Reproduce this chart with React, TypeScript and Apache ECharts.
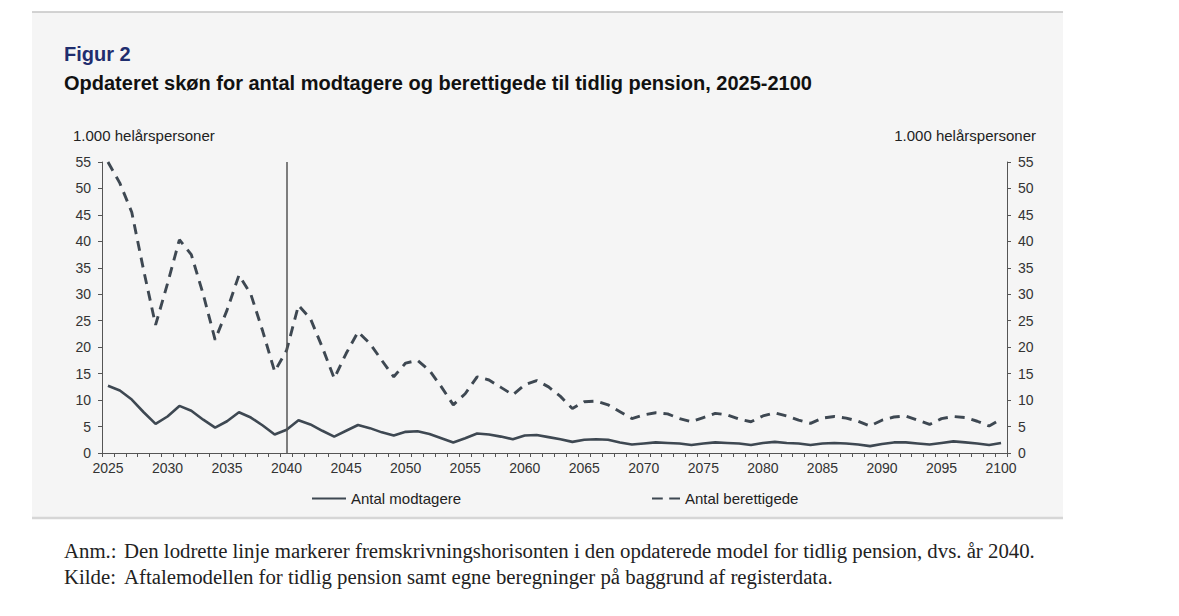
import React, { useEffect, useRef } from "react";
import * as echarts from "echarts";

const years = [
  "2025","2026","2027","2028","2029","2030","2031","2032","2033","2034",
  "2035","2036","2037","2038","2039","2040","2041","2042","2043","2044",
  "2045","2046","2047","2048","2049","2050","2051","2052","2053","2054",
  "2055","2056","2057","2058","2059","2060","2061","2062","2063","2064",
  "2065","2066","2067","2068","2069","2070","2071","2072","2073","2074",
  "2075","2076","2077","2078","2079","2080","2081","2082","2083","2084",
  "2085","2086","2087","2088","2089","2090","2091","2092","2093","2094",
  "2095","2096","2097","2098","2099","2100",
];

const modtagere = [
  12.7, 11.8, 10.1, 7.7, 5.5, 6.9, 8.9, 8.0, 6.3, 4.8,
  6.0, 7.7, 6.7, 5.2, 3.5, 4.4, 6.2, 5.4, 4.2, 3.1,
  4.2, 5.3, 4.7, 3.9, 3.3, 4.0, 4.1, 3.6, 2.8, 2.0,
  2.8, 3.7, 3.5, 3.1, 2.6, 3.3, 3.4, 3.0, 2.6, 2.1,
  2.5, 2.6, 2.5, 2.0, 1.6, 1.8, 2.0, 1.9, 1.8, 1.5,
  1.8, 2.0, 1.9, 1.8, 1.5, 1.9, 2.1, 1.9, 1.8, 1.5,
  1.8, 1.9, 1.8, 1.6, 1.3, 1.7, 2.0, 2.0, 1.8, 1.6,
  1.9, 2.2, 2.0, 1.8, 1.5, 1.9,
];

const berettigede = [
  55, 51, 45.5, 34.5, 24.2, 32, 40.3, 37.5, 30, 21.4,
  27, 33.6, 30, 23, 15.4, 19.4, 27.9, 25.4, 20, 14.1,
  18.8, 22.9, 20.7, 17.5, 14.4, 17.0, 17.5, 15.6, 12.5, 9.1,
  11.2, 14.4, 13.8, 12.4, 11.0, 12.9, 13.7, 12.5, 10.7, 8.4,
  9.7, 9.8, 9.1, 7.8, 6.5, 7.2, 7.6, 7.4, 6.5, 5.9,
  6.7, 7.5, 7.2, 6.4, 5.9, 7.0, 7.6, 7.0, 6.2, 5.6,
  6.6, 6.9, 6.6, 6.0, 5.1, 6.2, 6.8, 7.0, 6.2, 5.4,
  6.5, 6.9, 6.7, 6.0, 5.1, 6.4,
];

const markerYear = "2040";
const figLabel = "Figur 2";
const title = "Opdateret skøn for antal modtagere og berettigede til tidlig pension, 2025-2100";
const unitLabel = "1.000 helårspersoner";
const notes = [
  ["Anm.:", "Den lodrette linje markerer fremskrivningshorisonten i den opdaterede model for tidlig pension, dvs. år 2040."],
  ["Kilde:", "Aftalemodellen for tidlig pension samt egne beregninger på baggrund af registerdata."],
];

const SANS = "'Liberation Sans', Arial, sans-serif";
const SERIF = "'Liberation Serif', 'DejaVu Serif', serif";
const LINE = "#3e4852";
const AXIS = "#555";

export default function App() {
  const ref = useRef<HTMLDivElement>(null);

  useEffect(() => {
    if (!ref.current) return;
    const chart = echarts.init(ref.current, undefined, { renderer: "svg" });

    const yAxisCommon = {
      type: "value",
      min: 0,
      max: 55,
      interval: 5,
      axisLine: { show: true, lineStyle: { color: AXIS, width: 1 } },
      axisTick: { show: true, length: 4, lineStyle: { color: AXIS } },
      splitLine: { show: false },
      axisLabel: { color: "#333", fontSize: 14, fontFamily: SANS, margin: 11 },
    };

    chart.setOption({
      animation: false,
      backgroundColor: "#ffffff",
      graphic: [
        { type: "rect", shape: { x: 32, y: 12, width: 1031, height: 506 }, style: { fill: "#f5f5f5" }, z: -10 },
        { type: "line", shape: { x1: 32, y1: 12, x2: 1063, y2: 12 }, style: { stroke: "#c4c4c4", lineWidth: 1.5 }, z: -9 },
        { type: "line", shape: { x1: 32, y1: 518, x2: 1063, y2: 518 }, style: { stroke: "#d6d6d6", lineWidth: 2.5 }, z: -9 },
        { type: "text", left: 64, top: 44, style: { text: figLabel, fill: "#1f2d6e", font: `bold 20px ${SANS}` } },
        { type: "text", left: 64, top: 73, style: { text: title, fill: "#111", font: `bold 20px ${SANS}` } },
        { type: "text", left: 73, top: 128, style: { text: unitLabel, fill: "#222", font: `15px ${SANS}` } },
        { type: "text", right: 1179 - 1036, top: 128, style: { text: unitLabel, fill: "#222", font: `15px ${SANS}`, textAlign: "right" } },
        ...notes.flatMap((n, i) => [
          { type: "text", left: 64, top: 540 + i * 26, style: { text: n[0], fill: "#222", font: `20.8px ${SERIF}` } },
          { type: "text", left: 124, top: 540 + i * 26, style: { text: n[1], fill: "#222", font: `20.8px ${SERIF}` } },
        ]),
      ],
      grid: { left: 102, right: 172, top: 162, bottom: 163, containLabel: false },
      legend: [
        {
          left: 312,
          top: 491,
          padding: 0,
          itemWidth: 34,
          itemHeight: 14,
          textStyle: { color: "#222", fontSize: 15, fontFamily: SANS },
          data: [{ name: "Antal modtagere", icon: "path://M0,6L34,6L34,8L0,8Z", itemStyle: { color: LINE } }],
        },
        {
          left: 652,
          top: 491,
          padding: 0,
          itemWidth: 28,
          itemHeight: 14,
          textStyle: { color: "#222", fontSize: 15, fontFamily: SANS },
          data: [{ name: "Antal berettigede", icon: "path://M0,6L10,6L10,8L0,8ZM16,6L26,6L26,8L16,8Z", itemStyle: { color: LINE } }],
        },
      ],
      xAxis: {
        type: "category",
        data: years,
        boundaryGap: true,
        axisLine: { show: true, lineStyle: { color: AXIS, width: 1 } },
        axisTick: { show: true, interval: 0, length: 4, lineStyle: { color: AXIS } },
        axisLabel: { interval: 4, color: "#333", fontSize: 14, fontFamily: SANS, margin: 8 },
        splitLine: { show: false },
      },
      yAxis: [
        { ...yAxisCommon, position: "left" },
        { ...yAxisCommon, position: "right" },
      ],
      series: [
        {
          name: "Antal modtagere",
          type: "line",
          data: modtagere,
          symbol: "none",
          lineStyle: { color: LINE, width: 2.6 },
          itemStyle: { color: LINE },
          markLine: {
            silent: true,
            symbol: "none",
            label: { show: false },
            lineStyle: { color: "#555", width: 1.5, type: "solid" },
            data: [{ xAxis: markerYear }],
          },
        },
        {
          name: "Antal berettigede",
          type: "line",
          data: berettigede,
          symbol: "none",
          lineStyle: { color: LINE, width: 2.9, type: [10, 7] },
          itemStyle: { color: LINE },
        },
      ],
    });

    return () => chart.dispose();
  }, []);

  return (
    <div
      ref={ref}
      style={{ position: "fixed", left: 0, top: 0, width: 1179, height: 616, background: "#fff" }}
    />
  );
}
